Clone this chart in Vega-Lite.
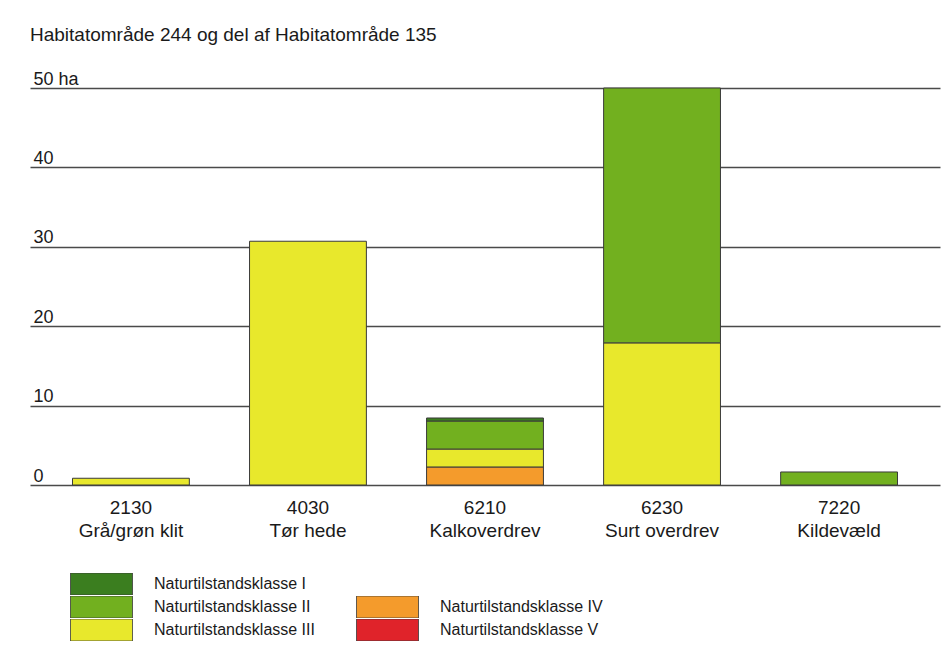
{
  "$schema": "https://vega.github.io/schema/vega-lite/v6.json",
  "width": 910,
  "height": 397,
  "autosize": {"type": "none"},
  "padding": {"left": 30, "top": 88, "right": 6, "bottom": 163},
  "background": "white",
  "title": {
    "text": "Habitatområde 244 og del af Habitatområde 135",
    "anchor": "start",
    "frame": "group",
    "font": "Liberation Sans",
    "fontSize": 19,
    "fontWeight": "normal",
    "color": "#1a1a1a",
    "offset": 25
  },
  "data": {
    "values": [
      {"habitat": "2130|Grå/grøn klit", "klasse": "Naturtilstandsklasse III", "ha": 0.85},
      {"habitat": "4030|Tør hede", "klasse": "Naturtilstandsklasse III", "ha": 30.7},
      {"habitat": "6210|Kalkoverdrev", "klasse": "Naturtilstandsklasse IV", "ha": 2.27},
      {"habitat": "6210|Kalkoverdrev", "klasse": "Naturtilstandsklasse III", "ha": 2.26},
      {"habitat": "6210|Kalkoverdrev", "klasse": "Naturtilstandsklasse II", "ha": 3.53},
      {"habitat": "6210|Kalkoverdrev", "klasse": "Naturtilstandsklasse I", "ha": 0.38},
      {"habitat": "6230|Surt overdrev", "klasse": "Naturtilstandsklasse III", "ha": 17.9},
      {"habitat": "6230|Surt overdrev", "klasse": "Naturtilstandsklasse II", "ha": 32.1},
      {"habitat": "7220|Kildevæld", "klasse": "Naturtilstandsklasse II", "ha": 1.64}
    ]
  },
  "mark": {"type": "bar", "stroke": "#3a3a3a", "strokeWidth": 1},
  "encoding": {
    "x": {
      "field": "habitat",
      "type": "nominal",
      "sort": null,
      "scale": {"paddingInner": 0.34, "paddingOuter": 0.24},
      "axis": {
        "title": null,
        "labelAngle": 0,
        "labelExpr": "split(datum.label, '|')",
        "labelFont": "Liberation Sans",
        "labelFontSize": 19,
        "labelColor": "#1a1a1a",
        "labelLineHeight": 23,
        "labelPadding": 13,
        "ticks": false,
        "domain": false,
        "grid": false
      }
    },
    "y": {
      "field": "ha",
      "type": "quantitative",
      "aggregate": "sum",
      "stack": "zero",
      "scale": {"domain": [0, 50], "nice": false},
      "axis": {
        "title": null,
        "values": [0, 10, 20, 30, 40, 50],
        "labelExpr": "datum.value == 50 ? '50 ha' : datum.label",
        "labelAlign": "left",
        "labelBaseline": "bottom",
        "labelPadding": -3,
        "labelDy": -5,
        "labelFont": "Liberation Sans",
        "labelFontSize": 18,
        "labelColor": "#1a1a1a",
        "ticks": false,
        "tickSize": 0,
        "domain": false,
        "grid": true,
        "gridColor": "#4a4a4a",
        "gridWidth": 1.3,
        "gridOpacity": 1
      }
    },
    "color": {
      "field": "klasse",
      "type": "nominal",
      "scale": {
        "domain": ["Naturtilstandsklasse I", "Naturtilstandsklasse II", "Naturtilstandsklasse III", " ", "Naturtilstandsklasse IV", "Naturtilstandsklasse V"],
        "range": ["#3b7e1f", "#72b01f", "#e8e82c", "transparent", "#f49b2c", "#e0232a"]
      },
      "legend": {
        "title": null,
        "orient": "none",
        "legendX": 40,
        "legendY": 485,
        "columns": 2,
        "columnPadding": 41,
        "rowPadding": 1,
        "padding": 0,
        "symbolType": "M-1,-0.355H1V0.355H-1Z",
        "symbolSize": 3844,
        "symbolStrokeWidth": 0.8,
        "symbolStrokeColor": "#3a3a3a",
        "symbolOpacity": 1,
        "clipHeight": 22,
        "labelOffset": 21,
        "labelLimit": 300,
        "labelFont": "Liberation Sans",
        "labelFontSize": 16,
        "labelColor": "#1a1a1a",
        "encode": {
          "symbols": {
            "update": {
              "stroke": {"signal": "datum.value === ' ' ? 'transparent' : '#3a3a3a'"}
            }
          }
        }
      }
    },
    "order": {"field": "klasse", "sort": "descending"}
  },
  "config": {
    "view": {"stroke": null},
    "font": "Liberation Sans"
  }
}
